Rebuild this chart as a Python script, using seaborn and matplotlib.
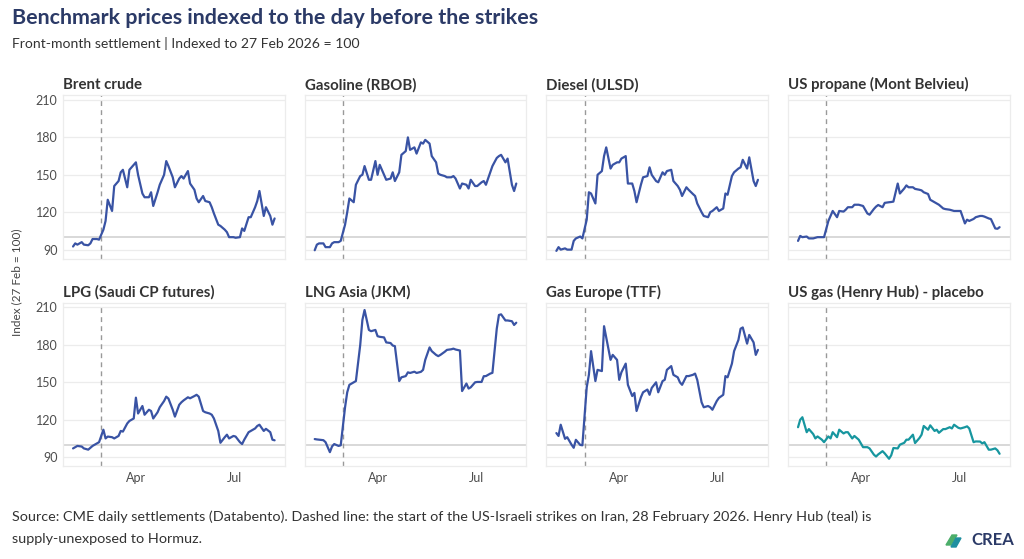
import numpy as np
import pandas as pd
import matplotlib
matplotlib.use("Agg")
import matplotlib.pyplot as plt
import matplotlib.dates as mdates
from matplotlib.patches import Polygon
import seaborn as sns

# ---------------- data ----------------
dates = pd.bdate_range("2026-02-02", "2026-08-07")[::2]

brent = [92.5, 95, 94, 96, 94, 93.5, 95, 98.5, 98.5, 98,
         106, 113, 130, 121, 141, 145, 152, 154, 140, 154, 158,
         160, 150, 135, 132, 132, 136, 125, 136, 142, 150, 161,
         157, 148, 140, 147, 149, 147, 153, 143, 138, 131, 128,
         133, 129, 128, 124, 119, 110, 109, 106, 104, 100, 100,
         99.5, 100, 107, 105, 116, 116, 124, 129, 137, 117, 124,
         117, 110, 115]
gasoline = [89.5, 94, 95, 95, 92, 92, 95, 96, 96, 97,
            110, 120, 131, 128, 142, 149, 150, 157, 146, 146, 161,
            150, 158, 150, 146, 147, 152, 145, 152, 166, 169, 180,
            170, 172, 167, 176, 175, 178, 175, 165, 160, 151, 150,
            149, 148, 148, 149, 147, 139, 143, 142, 139, 146, 141,
            141, 144, 145, 142, 152, 157, 163.5, 165, 166, 160, 163,
            142, 137, 143]
diesel = [89, 92, 90, 91, 90, 90, 97, 99, 100.5, 99,
          114, 136, 135, 127, 150, 153, 165, 172, 155, 158, 160,
          160, 163, 165, 143, 143, 137, 128, 142, 148, 149, 156,
          150, 145, 144, 152, 150, 153, 154, 145, 141, 138, 133,
          140, 138, 134.6, 133, 127, 120, 117, 116, 120, 121, 124,
          121, 123, 135, 134, 149, 152, 155, 156, 162, 155, 164,
          145, 141, 146]
propane = [97, 101, 100, 100.5, 99, 99, 99.5, 100, 100, 100,
           113, 117, 121, 116, 121, 120.5, 122, 124, 124, 126, 126,
           125.5, 125, 119, 118, 122.6, 124.5, 125.8, 124, 127.5, 128, 128.2,
           128.5, 143, 135, 139, 141.5, 140, 140, 138.7, 138, 137.5, 136,
           134.6, 130, 128, 127, 126, 123, 122.5, 122, 121.5, 121, 121,
           121, 111, 114, 113, 114.6, 116, 117, 117, 116.5, 115, 114.5,
           107, 106.7, 108]
lpg = [97, 98, 99, 98.5, 97, 96, 97.5, 99, 101, 102,
       112, 105, 106.5, 106, 105, 107, 111, 110.5, 117, 119, 121,
       137.7, 125, 131, 124, 128, 127, 121, 126, 130, 135, 138.5,
       137, 128, 122.5, 132, 134, 135.5, 138, 137.2, 139, 140, 138.5,
       127, 126, 125, 124, 121, 111, 101.5, 106, 108, 105, 107,
       106.5, 102, 100.5, 104, 110, 111, 113, 115, 116, 111, 112.7,
       110, 104, 103.5]
jkm = [104.5, 104.2, 104, 103.6, 102, 94, 98.6, 100.5, 99, 99.5,
       130, 142, 148, 150, 151, 180, 200, 208, 192, 191, 192,
       187, 186.5, 186, 182, 181.5, 179.5, 179, 151, 154, 155, 158,
       157.5, 158.5, 157.5, 158.4, 160, 168, 178, 175, 172, 171, 172,
       174.5, 176, 176.5, 177, 176.3, 175.5, 143, 149, 145, 146, 150,
       150.3, 150.3, 154.9, 155, 157, 157.6, 193, 204, 204.5, 199.6, 199.6,
       199, 196, 197.8]
ttf = [109.3, 107, 116, 104.7, 106, 100, 97.5, 103.9, 99.8, 99.5,
       146, 156, 175, 151, 160, 159, 195, 186, 168, 172, 168,
       152, 158, 165, 148, 139, 141.5, 127, 138, 142, 144.2, 140,
       145.5, 150, 142, 151, 152, 160, 163, 156, 154, 150, 148,
       155, 155, 156, 157, 152, 134, 130, 131, 130, 128, 135,
       137.5, 140, 155, 154, 165, 175, 184, 193, 194, 181, 188,
       182, 172, 176]
henry_hub = [114, 120, 122, 110, 112.5, 108.5, 105, 106.6, 104, 102,
             106.6, 105, 110, 106, 112, 109, 110, 110, 105, 107, 104,
             101, 98, 98, 97, 92, 90.5, 92.2, 94.8, 93, 88.7, 91.5,
             97.3, 97, 100, 101.5, 104, 104, 108, 101.3, 105.3, 108, 115,
             112, 115.5, 111, 112, 109.5, 112.5, 112.5, 114, 113, 116, 113.5,
             113, 114, 114.7, 113, 102, 102.6, 102.5, 101, 102, 96, 96,
             97, 95.5, 92.7]

series_names = ["Brent crude", "Gasoline (RBOB)", "Diesel (ULSD)",
                "US propane (Mont Belvieu)", "LPG (Saudi CP futures)",
                "LNG Asia (JKM)", "Gas Europe (TTF)",
                "US gas (Henry Hub) - placebo"]
series_values = [brent, gasoline, diesel, propane, lpg, jkm, ttf, henry_hub]
series_group = ["exposed"] * 7 + ["placebo"]

y_ticks = [90, 120, 150, 180, 210]
strike_date = pd.Timestamp("2026-02-28")
base_value = 100

frames = []
for name, vals, grp in zip(series_names, series_values, series_group):
    frames.append(pd.DataFrame({"date": dates, "index": vals,
                                "series": name, "group": grp}))
df = pd.concat(frames, ignore_index=True)

# ---------------- style ----------------
BLUE = "#3953a4"
TEAL = "#17969f"
NAVY = "#2b3a67"
GRID = "#ececec"

sns.set_theme(style="white")
plt.rcParams["font.family"] = ["Lato", "DejaVu Sans"]

g = sns.relplot(data=df, x="date", y="index", col="series", col_wrap=4,
                hue="group", palette={"exposed": BLUE, "placebo": TEAL},
                kind="line", linewidth=1.6, legend=False,
                height=2, aspect=1.3,
                facet_kws=dict(sharex=True, sharey=True, despine=False))
fig = g.figure
fig.set_size_inches(10.24, 5.59)
fig.subplots_adjust(left=0.0615, right=0.986, top=0.830, bottom=0.166,
                    wspace=0.09, hspace=0.268)
g.set_titles(template="")
g.set_axis_labels("", "")

for ax, name in zip(g.axes.flat, series_names):
    ax.set_title(name, loc="left", fontsize=10.8, fontweight="bold",
                 color="#333333", pad=4)
    ax.set_yticks(y_ticks)
    ax.xaxis.set_major_locator(mdates.MonthLocator(bymonth=[4, 7]))
    ax.xaxis.set_major_formatter(mdates.DateFormatter("%b"))
    ax.yaxis.grid(True, color=GRID, lw=0.9)
    ax.xaxis.grid(False)
    ax.set_axisbelow(True)
    for sp in ax.spines.values():
        sp.set_color(GRID)
        sp.set_linewidth(0.9)
    ax.tick_params(length=0, labelsize=9, labelcolor="#4d4d4d", pad=4)
    ax.axhline(base_value, color="#d6d6d6", lw=1.3, zorder=1)
    ax.axvline(strike_date, color="#999999", lw=1.0, ls=(0, (3.5, 3)), zorder=1)

# ---------------- text ----------------
fig.text(12 / 1024, 1 - 18 / 559,
         "Benchmark prices indexed to the day before the strikes",
         fontsize=15.4, fontweight="bold", color=NAVY, va="center", ha="left")
fig.text(12 / 1024, 1 - 44 / 559,
         "Front-month settlement | Indexed to 27 Feb 2026 = 100",
         fontsize=10.1, color="#333333", va="center", ha="left")
fig.text(17 / 1024, 1 - 282 / 559, "Index (27 Feb = 100)", rotation=90,
         fontsize=8.5, color="#444444", va="center", ha="center")
fig.text(12 / 1024, 1 - 517 / 559,
         "Source: CME daily settlements (Databento). Dashed line: the start of the "
         "US-Israeli strikes on Iran, 28 February 2026. Henry Hub (teal) is",
         fontsize=10.4, color="#333333", va="center", ha="left")
fig.text(12 / 1024, 1 - 539 / 559, "supply-unexposed to Hormuz.",
         fontsize=10.4, color="#333333", va="center", ha="left")

# CREA logo
fig.text(1014 / 1024, 1 - 540 / 559, "CREA", fontsize=12, fontweight="bold",
         color=NAVY, va="center", ha="right")
W, H = 1024, 559
leaf1 = [(946, 545), (951, 545), (957, 535), (952, 535)]
leaf2 = [(951, 547), (956, 547), (961, 538), (956, 538)]
fig.patches.append(Polygon([(x / W, 1 - y / H) for x, y in leaf1], closed=True,
                           transform=fig.transFigure, color="#4cae6a"))
fig.patches.append(Polygon([(x / W, 1 - y / H) for x, y in leaf2], closed=True,
                           transform=fig.transFigure, color="#1f8fa0"))

fig.savefig("out.png", dpi=100, facecolor="white")
